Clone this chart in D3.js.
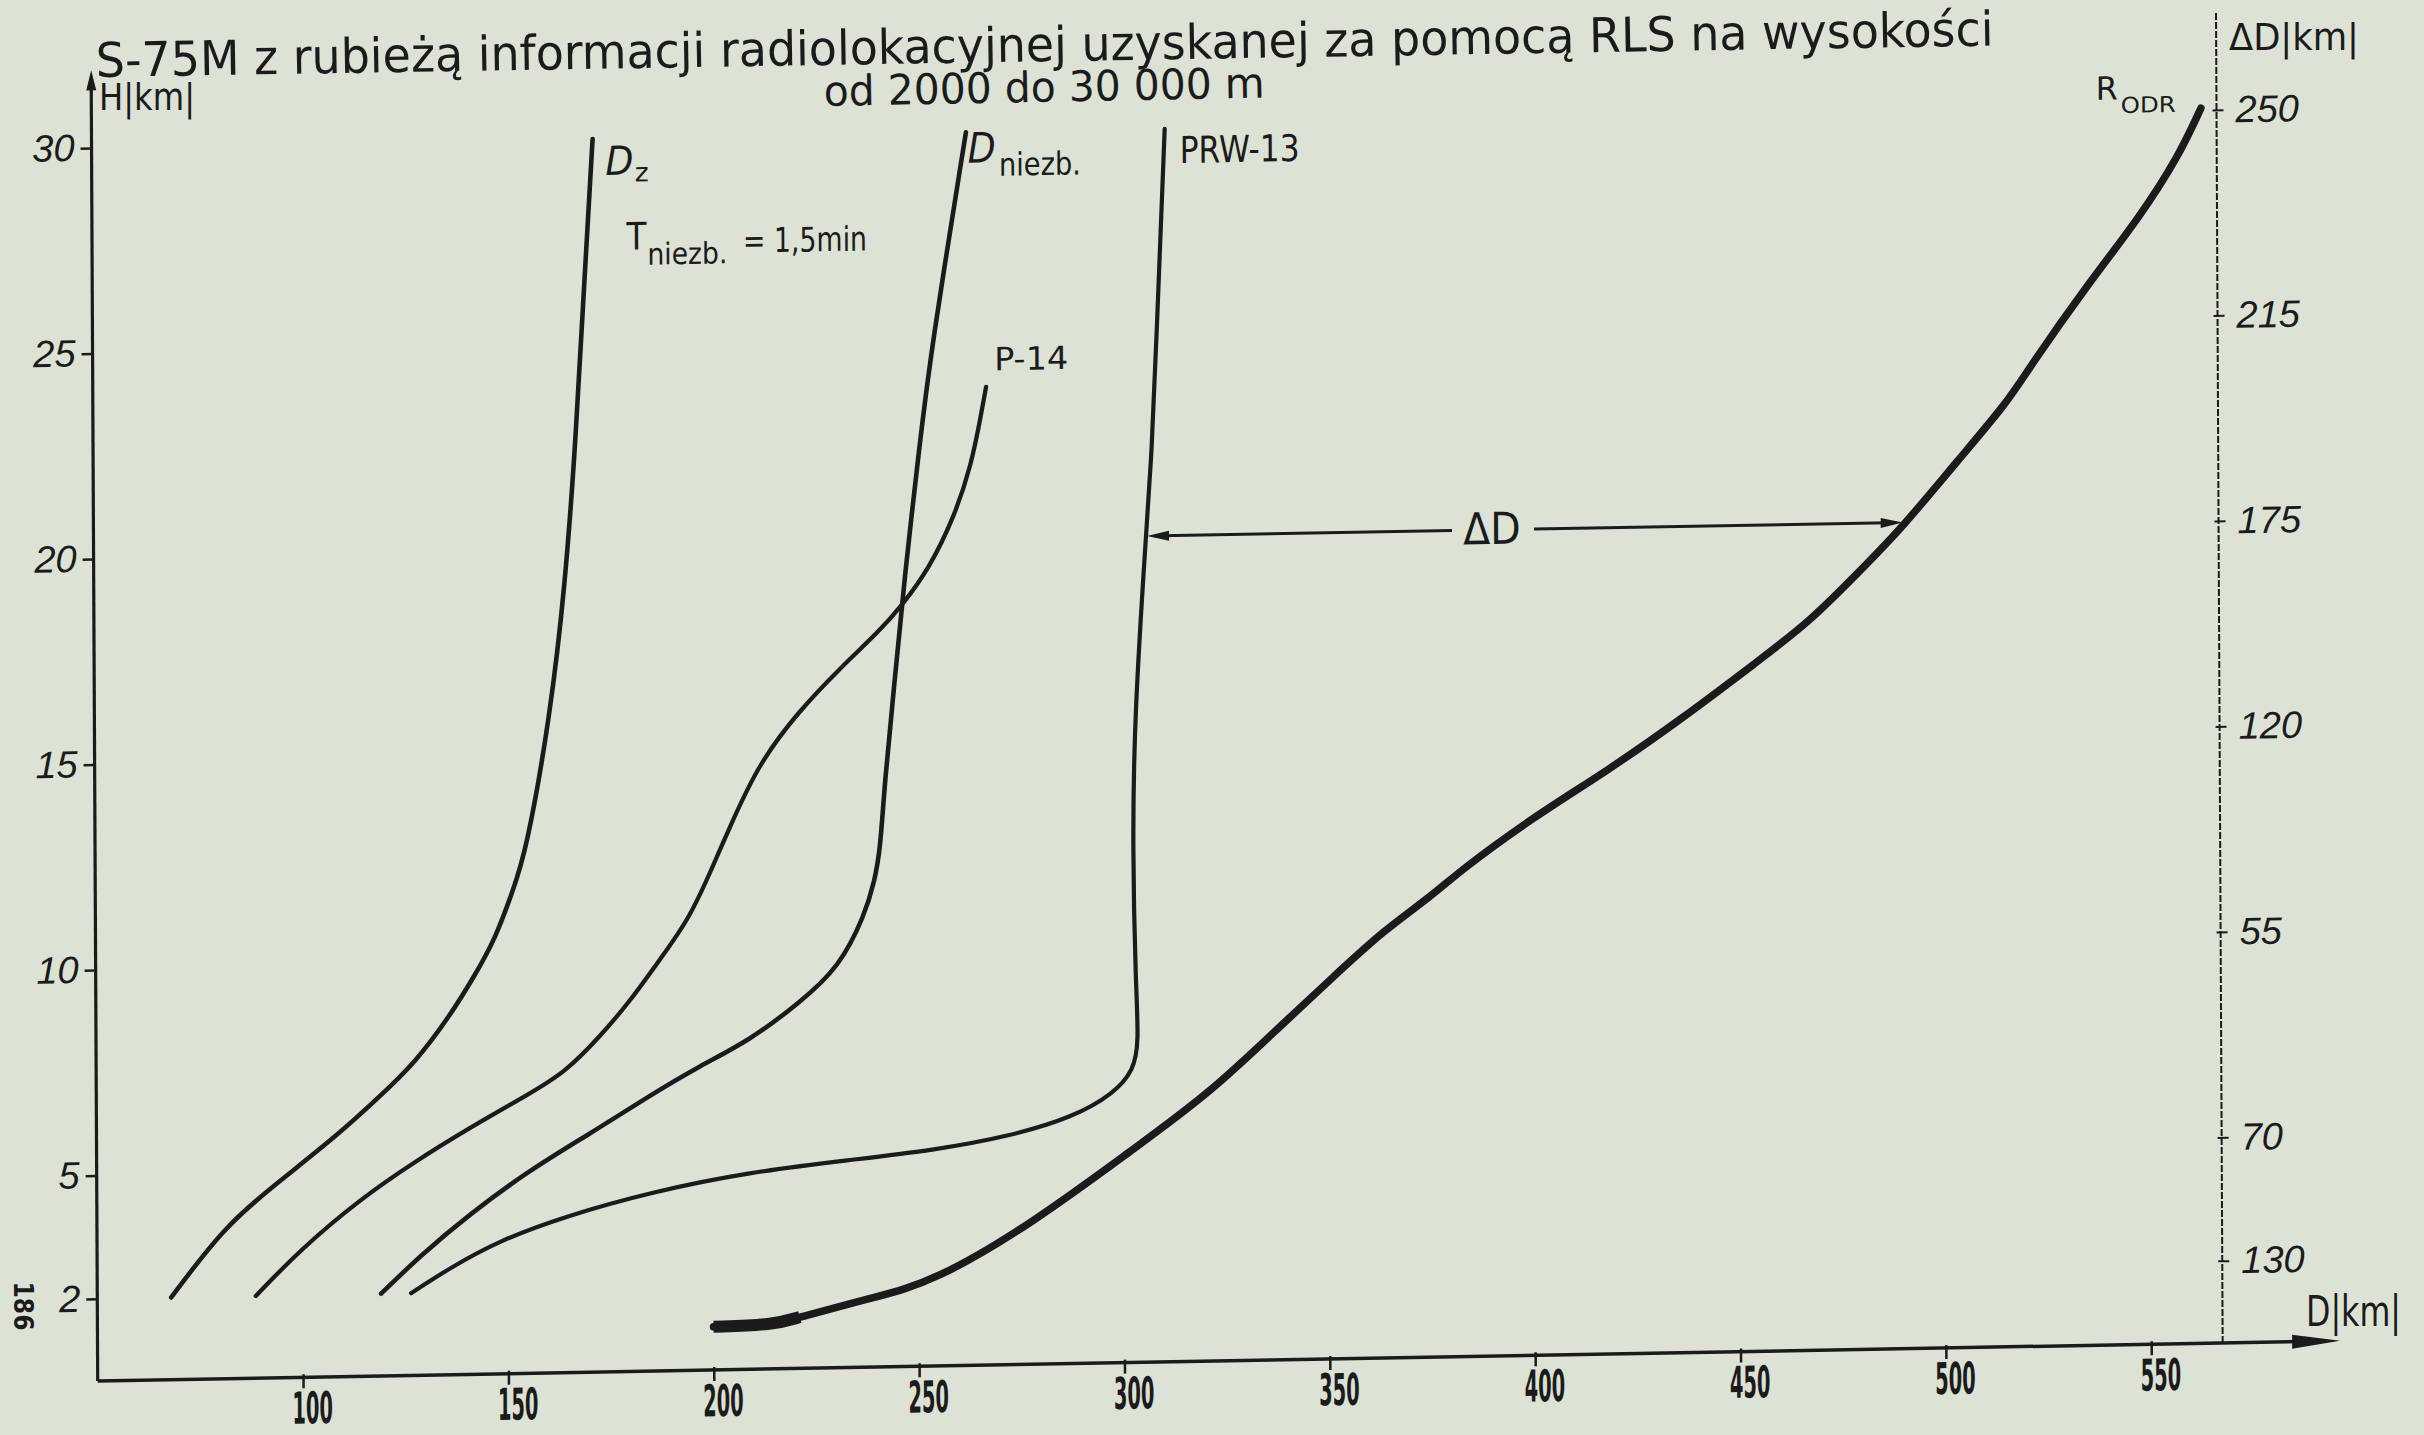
<!DOCTYPE html>
<html lang="pl">
<head>
<meta charset="utf-8">
<title>S-75M – rubież informacji radiolokacyjnej</title>
<script src="https://cdn.jsdelivr.net/npm/d3@7/dist/d3.min.js"></script>
<style>
  html, body { margin:0; padding:0; background:#dce2d4; }
  svg { display:block; }
  text { fill:#1b1b1b; }
  .narrow { font-family:"Liberation Sans Narrow","DejaVu Sans Condensed","Arial Narrow",sans-serif; font-stretch:condensed; }
  .num { font-family:"Liberation Sans","DejaVu Sans",sans-serif; font-style:italic; }
</style>
</head>
<body>
<svg id="chart" width="2424" height="1435" xmlns="http://www.w3.org/2000/svg"></svg>
<script>
// ---------------- DATA ----------------
const titleLine1 = "S-75M z rubieżą informacji radiolokacyjnej uzyskanej za pomocą RLS na wysokości";
const titleLine2 = "od 2000 do 30 000 m";

const xTickValues = [100, 150, 200, 250, 300, 350, 400, 450, 500, 550];
const yTickValues = [2, 5, 10, 15, 20, 25, 30];
const rightTickPositions = [30, 25, 20, 15, 10, 5, 2];
const rightTickLabels = ["250", "215", "175", "120", "55", "70", "130"];

// [D km, H km]
const curveDz = [[68,2],[81,3.7],[93.4,4.7],[109,5.9],[119,6.8],[127.6,7.6],[136,8.7],[142.3,9.7],
  [147.4,10.6],[151.5,11.7],[155,12.7],[161,16],[164.8,19.2],[167.3,22.4],[168.8,24.9],[172,30]];
const curveP14 = [[88.6,2],[99.4,3.1],[114,4.3],[127.5,5.2],[140.9,6.0],[155.5,6.8],[164.1,7.3],[172.6,8.15],
  [180,9.0],[187.3,10.0],[194.7,11.0],[200.6,12.3],[205,13.3],[211.8,14.75],[221.6,16.0],[231.4,17.0],
  [241.2,17.9],[246.6,18.5],[253.4,19.4],[259.6,20.65],[263.8,21.9],[266.2,23.1],[267.5,23.8]];
const curveDniezb = [[119.1,2],[128.6,2.9],[140.8,3.9],[155.5,4.95],[170.1,5.8],[184.7,6.7],[196.9,7.4],
  [209.1,8.0],[221.4,8.9],[231.1,9.75],[237.3,11.0],[239.7,11.8],[241.2,12.6],[242.3,14.2],[244.8,16.6],
  [247.3,19.1],[251.1,22.3],[254.1,24.7],[262.9,30]];
const curvePRW13 = [[126.4,2],[135.9,2.6],[148.1,3.25],[163.9,3.8],[184.6,4.35],[209,4.8],[233.4,5.05],
  [253.8,5.25],[272.1,5.55],[288,6.0],[297.7,6.55],[302.6,7.1],[303.9,7.8],[303.2,9.2],[302.6,12.5],
  [303.2,15.7],[306.3,20.2],[307.8,22.2],[308.9,24.6],[311.3,30]];
const curveRodr = [[200,1.05],[214.5,1.07],[221,1.25],[239.3,1.7],[253.7,2.05],[278.1,3.45],[302.5,5.2],
  [320.9,6.5],[339.2,8.2],[351.4,9.3],[363.6,10.4],[375.8,11.25],[382,11.8],[400.3,13.1],[418.5,14.2],
  [436.9,15.45],[455.2,16.8],[467.4,17.7],[479.6,18.9],[490.6,20.0],[504.1,21.6],[516.3,23.0],
  [521.4,23.8],[536.1,25.85],[548.4,27.4],[558.2,28.9],[563.6,30.05]];

const deltaDSpan = [306.5, 490.5];   // D at PRW-13 and at R_ODR
const deltaDHeight = 20.1;           // H of the ΔD dimension line

// ---------------- DRAWING ----------------
const svg = d3.select("#chart");
const ink = "#1b1b1b";

// the scanned sheet is slightly skewed
const X0 = 98, Y0 = 1381, skA = 0.005, skB = -0.0179;

const x = d3.scaleLinear().domain([50, 550]).range([97.7, 2151.2]);
const y = d3.scaleLinear().domain([0, 30]).range([1381, 148]);
const D_MIN = 50, D_RIGHT_AXIS = 567.4, D_ARROW = 596;

const g = svg.append("g")
  .attr("transform", `matrix(1,${skB},${skA},1,${-skA * Y0},${-skB * X0})`);

// ---- left axis ----
g.append("line")
  .attr("x1", x(D_MIN)).attr("x2", x(D_MIN))
  .attr("y1", y(0)).attr("y2", y(31.5))
  .attr("stroke", ink).attr("stroke-width", 3.2);
{
  const ax = x(D_MIN), at = y(31.5);
  g.append("path").attr("d", `M${ax},${at - 16} L${ax - 5},${at + 4} L${ax + 5},${at + 4} Z`).attr("fill", ink);
}
const yAxisG = g.append("g")
  .attr("transform", `translate(${x(D_MIN)},0)`)
  .call(d3.axisLeft(y).tickValues(yTickValues).tickSize(11).tickPadding(6).tickFormat(d3.format("d")));
yAxisG.select(".domain").remove();
yAxisG.selectAll(".tick line").attr("stroke", ink).attr("stroke-width", 2.5);
yAxisG.selectAll(".tick text").attr("class", "num").attr("font-size", 38).attr("fill", ink);

// ---- bottom axis ----
g.append("line")
  .attr("x1", x(D_MIN)).attr("x2", x(D_ARROW) - 20)
  .attr("y1", y(0)).attr("y2", y(0))
  .attr("stroke", ink).attr("stroke-width", 3.5);
{
  const ex = x(D_ARROW), ey = y(0);
  g.append("path").attr("d", `M${ex},${ey} L${ex - 48},${ey - 7} L${ex - 48},${ey + 7} Z`).attr("fill", ink);
}
const xAxisG = g.append("g")
  .attr("transform", `translate(0,${y(0)})`)
  .call(d3.axisBottom(x).tickValues(xTickValues).tickSize(11).tickPadding(4).tickFormat(d3.format("d")));
xAxisG.select(".domain").remove();
xAxisG.selectAll(".tick line").attr("stroke", ink).attr("stroke-width", 2.5).attr("y1", -3);
xAxisG.selectAll(".tick text")
  .attr("class", "narrow").attr("font-size", 44).attr("font-weight", "bold").attr("fill", ink)
  .attr("dx", 9)
  .attr("textLength", d => String(d).length * 13.5)
  .attr("lengthAdjust", "spacingAndGlyphs");

// ---- right axis ----
g.append("line")
  .attr("x1", x(D_RIGHT_AXIS)).attr("x2", x(D_RIGHT_AXIS))
  .attr("y1", y(0)).attr("y2", y(32.4))
  .attr("stroke", ink).attr("stroke-width", 2)
  .attr("stroke-dasharray", "7 2");
const rAxisG = g.append("g")
  .attr("transform", `translate(${x(D_RIGHT_AXIS)},0)`)
  .call(d3.axisRight(y).tickValues(rightTickPositions).tickSize(7).tickPadding(12)
        .tickFormat((d, i) => rightTickLabels[i]));
rAxisG.select(".domain").remove();
rAxisG.selectAll(".tick line").attr("stroke", ink).attr("stroke-width", 2).attr("x1", -4);
rAxisG.selectAll(".tick text").attr("class", "num").attr("font-size", 38).attr("fill", ink);

// ---- curves ----
const line = d3.line()
  .x(d => x(d[0])).y(d => y(d[1]))
  .curve(d3.curveBasis);

const series = [
  { data: curveDz, w: 4.6 },
  { data: curveP14, w: 4.3 },
  { data: curveDniezb, w: 4.6 },
  { data: curvePRW13, w: 4.2 }
];
g.selectAll("path.curve").data(series).join("path")
  .attr("class", "curve")
  .attr("d", d => line(d.data))
  .attr("fill", "none").attr("stroke", ink)
  .attr("stroke-width", d => d.w)
  .attr("stroke-linecap", "round").attr("stroke-linejoin", "round");

g.append("path")
  .attr("d", line(curveRodr))
  .attr("fill", "none").attr("stroke", ink)
  .attr("stroke-width", 7.5).attr("stroke-linecap", "round");
g.append("path")
  .attr("d", line(curveRodr.slice(0, 3)))
  .attr("fill", "none").attr("stroke", ink)
  .attr("stroke-width", 12).attr("stroke-linecap", "butt");

// ---- ΔD dimension line ----
{
  const yd = y(deltaDHeight);
  const x1 = x(deltaDSpan[0]), x2 = x(deltaDSpan[1]);
  const xm = x((deltaDSpan[0] + deltaDSpan[1]) / 2 - 8);
  g.append("line").attr("x1", x1 + 14).attr("x2", xm - 40).attr("y1", yd).attr("y2", yd)
    .attr("stroke", ink).attr("stroke-width", 3);
  g.append("line").attr("x1", xm + 42).attr("x2", x2 - 14).attr("y1", yd).attr("y2", yd)
    .attr("stroke", ink).attr("stroke-width", 3);
  g.append("path").attr("d", `M${x1},${yd} L${x1 + 22},${yd - 5} L${x1 + 22},${yd + 5} Z`).attr("fill", ink);
  g.append("path").attr("d", `M${x2},${yd} L${x2 - 22},${yd - 5} L${x2 - 22},${yd + 5} Z`).attr("fill", ink);
  g.append("text").attr("class", "narrow")
    .attr("x", xm).attr("y", yd + 14)
    .attr("text-anchor", "middle").attr("font-size", 44)
    .text("ΔD");
}

// ---- curve labels (positions in data units) ----
function label(D, Hh, txt, size, opts = {}) {
  const t = g.append("text").attr("class", opts.cls || "narrow")
    .attr("x", x(D)).attr("y", y(Hh)).attr("font-size", size);
  if (opts.italic) t.attr("font-style", "italic");
  if (opts.len) t.attr("textLength", opts.len).attr("lengthAdjust", "spacingAndGlyphs");
  t.text(txt);
  return t;
}
label(175.1, 29.12, "D", 40, { italic: true, len: 28 });
label(182.2, 28.95, "z", 26, { len: 14 });
label(180.1, 27.29, "T", 38, { len: 20 });
label(185.2, 26.92, "niezb.", 30, { len: 80 });
label(208.5, 27.17, "= 1,5min", 34, { len: 124 });
label(263.3, 29.26, "D", 42, { italic: true, len: 28 });
label(270.9, 28.93, "niezb.", 32, { len: 82 });
label(314.9, 29.16, "PRW-13", 37, { len: 120 });
label(269.5, 24.2, "P-14", 32, { len: 74 });
label(538, 30.3, "R", 32, { len: 22 });
label(544.1, 29.97, "ODR", 22, { len: 55 });

// ---- axis titles & heading (page layout) ----
svg.append("text").attr("class", "narrow").attr("x", 99).attr("y", 110)
  .attr("font-size", 38).attr("textLength", 96).attr("lengthAdjust", "spacingAndGlyphs")
  .text("H|km|");
svg.append("text").attr("class", "narrow").attr("x", 2229).attr("y", 50)
  .attr("font-size", 38).attr("textLength", 130).attr("lengthAdjust", "spacingAndGlyphs")
  .text("ΔD|km|");
svg.append("text").attr("class", "narrow").attr("x", 2306).attr("y", 1326)
  .attr("font-size", 42).attr("textLength", 95).attr("lengthAdjust", "spacingAndGlyphs")
  .text("D|km|");

svg.append("text").attr("class", "narrow")
  .attr("x", 96).attr("y", 77)
  .attr("transform", "rotate(-0.95 96 77)")
  .attr("font-size", 48)
  .attr("textLength", 1898).attr("lengthAdjust", "spacingAndGlyphs")
  .text(titleLine1);
svg.append("text").attr("class", "narrow")
  .attr("x", 824).attr("y", 106)
  .attr("transform", "rotate(-1.1 824 106)")
  .attr("font-size", 42)
  .attr("textLength", 441).attr("lengthAdjust", "spacingAndGlyphs")
  .text(titleLine2);

svg.append("text").attr("class", "narrow")
  .attr("transform", "translate(14,1306) rotate(90)")
  .attr("text-anchor", "middle").attr("font-size", 26).attr("font-weight", "bold")
  .text("186");
</script>
</body>
</html>
